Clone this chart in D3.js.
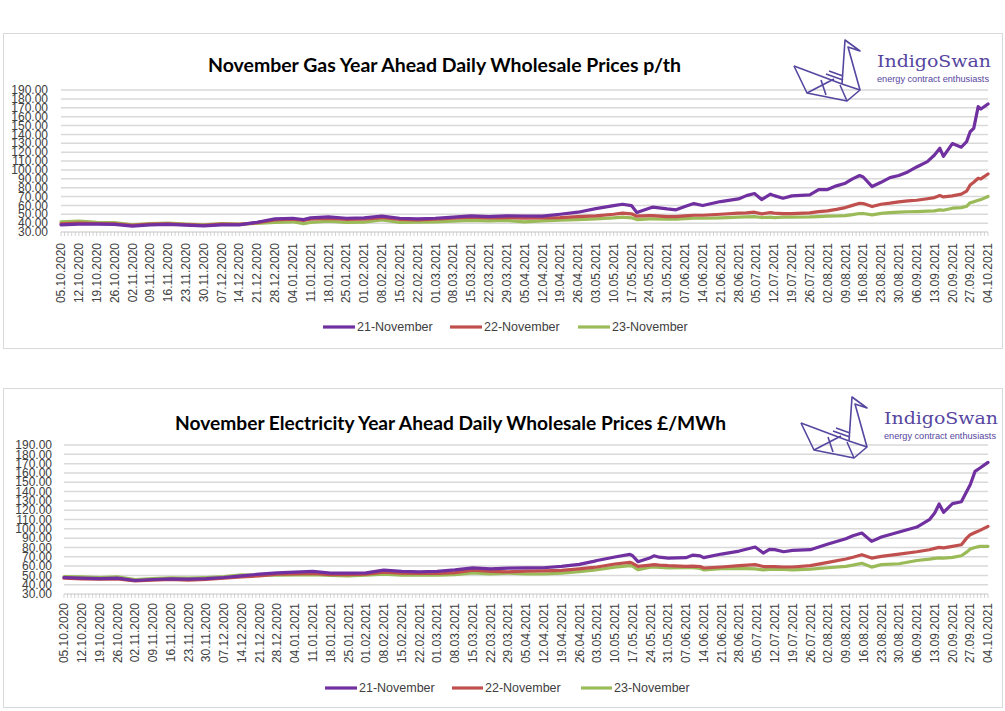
<!DOCTYPE html>
<html><head><meta charset="utf-8">
<script src="https://cdn.jsdelivr.net/npm/d3@7"></script>
<style>body{margin:0;background:#fff}svg{display:block}</style>
</head><body>
<svg id="c" width="1005" height="711"></svg>
<script>
// ---------- data ----------
const weekLabels = ["05.10.2020","12.10.2020","19.10.2020","26.10.2020","02.11.2020","09.11.2020","16.11.2020","23.11.2020","30.11.2020","07.12.2020","14.12.2020","21.12.2020","28.12.2020","04.01.2021","11.01.2021","18.01.2021","25.01.2021","01.02.2021","08.02.2021","15.02.2021","22.02.2021","01.03.2021","08.03.2021","15.03.2021","22.03.2021","29.03.2021","05.04.2021","12.04.2021","19.04.2021","26.04.2021","03.05.2021","10.05.2021","17.05.2021","24.05.2021","31.05.2021","07.06.2021","14.06.2021","21.06.2021","28.06.2021","05.07.2021","12.07.2021","19.07.2021","26.07.2021","02.08.2021","09.08.2021","16.08.2021","23.08.2021","30.08.2021","06.09.2021","13.09.2021","20.09.2021","27.09.2021","04.10.2021"];
const yTicks = [30,40,50,60,70,80,90,100,110,120,130,140,150,160,170,180,190];
const seriesNames = ["21-November","22-November","23-November"];
const seriesColors = ["#7030A0","#C0504D","#9BBB59"];

// position of each reading, in weeks after 05.10.2020
const gasWeeks = [0,1,2,3,4,5,6,7,8,9,10,11,12,13,13.6,14,15,16,17,18,19,20,21,22,23,24,25,26,27,28,29,30,31,31.5,32,32.3,33,33.2,34,34.5,35,35.5,36,37,38,38.45,38.9,39.3,39.8,40,40.5,41,42,42.5,43,43.5,44,44.4,44.8,45,45.5,46,46.5,47,47.5,48,48.6,49,49.3,49.5,50,50.5,50.8,51,51.2,51.45,51.6,52];
const gasNov21 = [38.1,38.9,38.9,38.5,36.7,38,38.5,37.8,37,38.1,38,41,44.8,45.5,44,46,47,45.5,46,47.8,45.5,44.8,45.5,46.7,48.1,47.4,48.1,48,47.8,50,52.3,56.4,59.8,61.3,59.8,52,56.8,58,56,55,58.7,62,59.8,64.3,67.3,71,73.3,66.6,72.6,71,68,70.7,71.8,77.8,77.8,82,85,89.8,93.6,92,81.2,86,91.3,93.6,97.7,103.3,109.3,116.8,124.3,115.3,129.6,125.5,131.8,143,146.8,171.2,168.6,174.2];
const gasNov22 = [39.3,40,39.6,39.3,37.5,38.9,39.3,38.3,37.5,38.9,38.5,40.5,43.7,44.4,43,44.4,45.2,44.1,44.4,46.3,44.1,43.7,44.4,45.5,46.7,45.9,46.3,45.5,45.8,46.3,47.4,48.2,50,51.2,50.5,47.8,48.5,48.5,47.4,47.4,48.2,48.9,48.9,50,51.2,51.6,52.3,50.4,52,51.2,50.8,50.8,51.5,53,53.8,55.5,57.5,60,62.4,62,58.7,61.3,62.5,64,65,65.8,67.5,68.8,71,69.5,70.7,72.6,76,83,86,90.6,89.8,95.4];
const gasNov23 = [41.5,42.2,41,40.7,38.1,39.6,40,38.9,38,39.6,38.9,39.8,40.7,41.5,39.5,40.7,42.2,40.7,41,43.7,40.7,41,41.5,42.2,43,42.6,43,41.5,42.5,43.3,44,44.8,46,46.7,46,44,44.8,44.8,44.4,44.4,45,45.5,45.5,46,46.7,47,47.4,46.3,46.7,46.3,46.7,46.7,47,47.4,47.8,48,48.5,49.5,50.8,50.8,49.3,51,51.8,52.3,52.8,53,53.5,53.8,55,54.5,56.8,57.5,59,63,64,65.8,66.5,70];

const elecWeeks = [0,1,2,3,4,5,6,7,8,9,10,11,12,13,14,15,16,17,18,19,20,21,22,23,24,25,26,27,28,29,29.8,30,31,31.85,32,32.3,33,33.2,33.5,34,35,35.4,35.8,36,37,38,38.9,39.35,39.7,40,40.5,41,42,43,44,44.4,44.9,45.45,46,47,48,48.7,49,49.25,49.5,50,50.5,50.8,51,51.27,51.55,52];
const elecNov21 = [47.7,47,46.6,47,44.5,45.6,46.3,46,46.6,47.7,49.5,51.3,52.7,53.4,54.2,52.4,52.4,52.7,55.6,54.2,53.8,54.2,55.9,58.1,57,57.7,58,58.2,59.7,61.8,65,66,69.7,72.6,71.1,64.7,69,71,69.5,68.6,69,71.8,71,69,72.9,76.1,80.4,74,78,77.6,75.4,76.8,77.6,83.7,89.4,92.6,95.5,86.5,91.2,96.6,101.9,109.8,117,126.6,117.7,127,129,140,147.4,161.7,165.3,171.4];
const elecNov22 = [47,46.3,46,46.3,44.1,44.9,45.6,44.9,45.6,47,48.4,49.5,51.3,51.6,52,50.9,50.9,51.3,53.4,52.4,52,52,53,55.6,54.2,53.8,54.5,54.8,55.4,57,58.5,59,62.2,64,63,59.7,61.1,61.5,61,60.4,59.7,60,59.5,57.9,59,60.4,61.5,59.5,59.5,59.3,59,59,60.4,64,67.6,69.5,72.2,68.6,70.4,72.9,75.4,77.5,79,80,79.5,81.2,82.9,90,93.7,96,98.3,102.6];
const elecNov23 = [48.8,48.4,47.7,48.4,45.6,46.6,47.4,47,47.7,48.8,50.6,50.2,50.2,50.6,50.9,49.9,49.5,50.2,51.3,50.2,50.2,50.2,50.9,52.7,51.6,52.4,51.5,51.5,52.5,54,55.5,56,58.9,60.4,59.8,56,58.9,59,58.5,57.9,58.2,58.2,57.5,56,57.2,57.5,57,56,56.5,56.8,56.3,56,56.8,58.2,59.7,61,63,58.9,61.5,62.5,66,67.5,68.3,68.8,68.5,69.3,71.1,75,78.3,80,81.2,81.2];

// ---------- layout ----------
const charts = [
  {title:"November Gas Year Ahead Daily Wholesale Prices p/th", weeks:gasWeeks, series:[gasNov21,gasNov22,gasNov23],
   box:[3.5,33.5,999,315], titleX:208, titleW:473, titleY:72,
   x0:61, x1:988, yTop:90, yBot:232, yLabX:48, xLabEnd:243,
   legY:327, leg:[[323,355,357],[450,482,484],[578,610,612]], logo:[0,0]},
  {title:"November Electricity Year Ahead Daily Wholesale Prices £/MWh", weeks:elecWeeks, series:[elecNov21,elecNov22,elecNov23],
   box:[3.5,388.5,999,319], titleX:175, titleW:551, titleY:430,
   x0:64, x1:988, yTop:445, yBot:594, yLabX:52, xLabEnd:603,
   legY:688, leg:[[325,357,359],[452,483,485],[581,612,614]], logo:[7,357]}
];

const svg = d3.select("#c");
const axisFont = "'Liberation Sans', Arial, sans-serif";
const logoColor = "#5646A0";

charts.forEach(c => {
  const g = svg.append("g");
  g.append("rect").attr("x",c.box[0]).attr("y",c.box[1]).attr("width",c.box[2]).attr("height",c.box[3])
    .attr("fill","#fff").attr("stroke","#d9d9d9").attr("stroke-width",1);

  const x = d3.scaleLinear().domain([0,52]).range([c.x0,c.x1]);
  const y = d3.scaleLinear().domain([30,190]).range([c.yBot,c.yTop]);

  // gridlines
  g.append("g").selectAll("line").data(yTicks).join("line")
    .attr("x1",c.x0).attr("x2",c.x1).attr("y1",d=>y(d)).attr("y2",d=>y(d))
    .attr("stroke","#d9d9d9").attr("stroke-width",1.5);

  // y labels
  g.append("g").selectAll("text").data(yTicks).join("text")
    .attr("x",c.yLabX).attr("y",d=>y(d)).attr("dy","0.35em").attr("text-anchor","end")
    .attr("font-family",axisFont).attr("font-size",12).attr("fill","#404040")
    .text(d=>d3.format(".2f")(d));

  // category ticks (one per business day)
  const days = d3.range(0,261);
  g.append("g").selectAll("line").data(days).join("line")
    .attr("x1",d=>x(d/5)).attr("x2",d=>x(d/5)).attr("y1",c.yBot).attr("y2",c.yBot+4)
    .attr("stroke","#c8c8c8").attr("stroke-width",0.8);

  // x labels
  g.append("g").selectAll("text").data(weekLabels).join("text")
    .attr("transform",(d,i)=>`translate(${x(i)},${c.xLabEnd}) rotate(-90)`)
    .attr("dy","0.35em").attr("text-anchor","end")
    .attr("font-family",axisFont).attr("font-size",12).attr("fill","#404040")
    .text(d=>d);

  // lines (draw green, red, purple so purple is on top)
  const line = d3.line().x((v,i)=>x(c.weeks[i])).y(v=>y(v));
  [2,1,0].forEach(k => {
    g.append("path").attr("d",line(c.series[k])).attr("fill","none")
      .attr("stroke",seriesColors[k]).attr("stroke-width",3.2).attr("stroke-linejoin","round").attr("stroke-linecap","round");
  });

  // title
  g.append("text").attr("x",c.titleX).attr("y",c.titleY)
    .attr("font-family","Lato, 'Open Sans', sans-serif").attr("font-weight",700).attr("font-size",18.5)
    .attr("textLength",c.titleW).attr("lengthAdjust","spacingAndGlyphs").attr("fill","#000").text(c.title);

  // legend
  c.leg.forEach((l,k) => {
    g.append("line").attr("x1",l[0]).attr("x2",l[1]).attr("y1",c.legY).attr("y2",c.legY)
      .attr("stroke",seriesColors[k]).attr("stroke-width",3.2);
    g.append("text").attr("x",l[2]).attr("y",c.legY).attr("dy","0.35em")
      .attr("font-family",axisFont).attr("font-size",12.5).attr("fill","#404040").text(seriesNames[k]);
  });

  // logo
  const lg = g.append("g").attr("transform",`translate(${c.logo[0]},${c.logo[1]})`)
    .attr("fill","none").attr("stroke",logoColor).attr("stroke-width",1.6).attr("stroke-linejoin","round");
  const swan = [
    [[794,66],[807,93],[847,101],[860,90],[848,47],[860,51],[845,40],[842,84]],
    [[794,66],[842,84]],
    [[807,93],[834,79]],
    [[821,80],[826,95]],
    [[826,74],[843,80]],[[829,71],[843,76]],
    [[840,85],[847,101]],
    [[842,84],[860,90]]
  ];
  swan.forEach(p => lg.append("path").attr("d",d3.line()(p)));
  g.append("text").attr("x",877+c.logo[0]).attr("y",67+c.logo[1])
    .attr("font-family","'DejaVu Serif', serif").attr("font-size",16)
    .attr("textLength",114).attr("lengthAdjust","spacingAndGlyphs").attr("fill",logoColor).text("IndigoSwan");
  g.append("text").attr("x",877+c.logo[0]).attr("y",82+c.logo[1])
    .attr("font-family","'Liberation Sans Narrow', 'Liberation Sans', sans-serif").attr("font-size",9.5)
    .attr("textLength",112).attr("lengthAdjust","spacingAndGlyphs").attr("fill",logoColor).text("energy contract enthusiasts");
});
</script>
</body></html>
